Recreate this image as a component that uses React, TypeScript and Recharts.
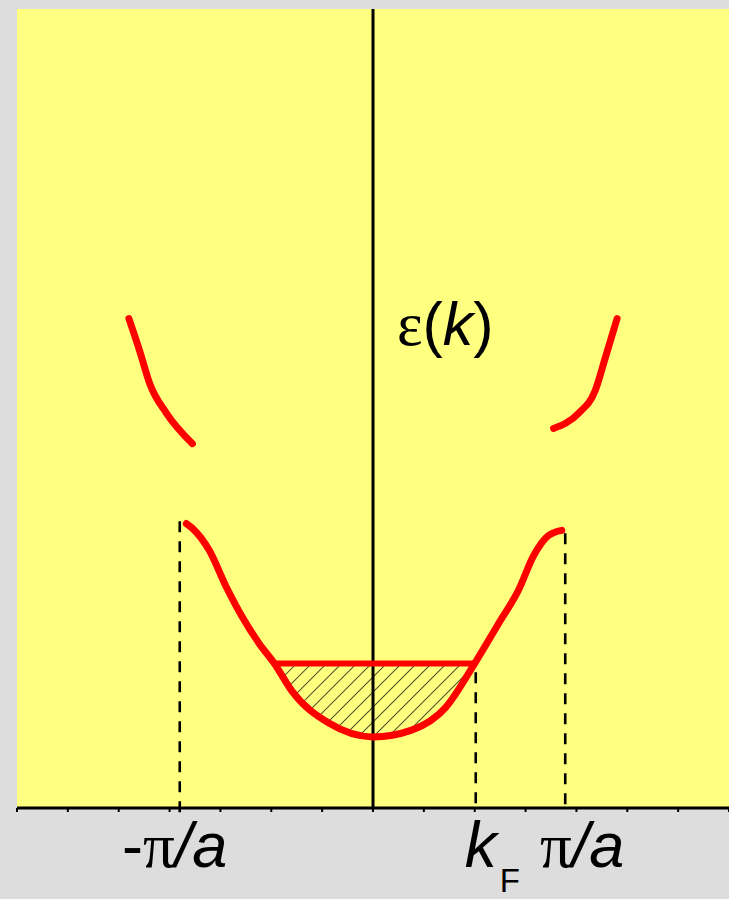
import React from 'react';
import {
  ComposedChart,
  Line,
  Area,
  XAxis,
  YAxis,
  CartesianGrid,
  ReferenceLine,
  ReferenceDot,
} from 'recharts';

// Wave vector k in units of the minor tick spacing, energy ε on a 0–100 scale.
const lowerK = [-3.67, -3.55, -3.22, -2.88, -2.57, -2.24, -1.94, -1.59, -0.86, 0, 0.76, 1.43, 2.0, 2.47, 2.86, 3.16, 3.45, 3.71];
const lowerE = [35.6, 35.0, 32.25, 27.6, 23.9, 20.6, 18.1, 14.6, 10.6, 8.9, 9.75, 12.6, 18.1, 23.1, 27.25, 31.6, 34.1, 34.75];

const upperLeftK = [-4.8, -4.59, -4.39, -4.06, -3.55];
const upperLeftE = [61.25, 57.25, 53.1, 49.4, 45.6];

const upperRightK = [3.55, 4.04, 4.37, 4.57, 4.8];
const upperRightE = [47.5, 49.4, 52.25, 56.4, 61.25];

// Filled states: lowest band up to the Fermi level
const fermiE = 18.1;
const fermiLeftK = -1.94;
const fermiRightK = 2.0;

// Marked wave vectors on the k axis: -π/a, k_F, π/a
const markerK = [-3.8, 2.02, 3.78];
const markerNames = ['-π/a', 'kF', 'π/a'];
const markerTopE = [35.9, 17, 34.4];

const minorTicks = [-7, -6, -5, -4, -3, -2, -1, 0, 1, 2, 3, 4, 5, 6, 7];

const curveLabelK = 0.47;
const curveLabelE = 57.9;

const toPoints = (ks: number[], es: number[]) => ks.map((k, i) => ({ k, e: es[i] }));

const lowerBand = toPoints(lowerK, lowerE);
const upperLeft = toPoints(upperLeftK, upperLeftE);
const upperRight = toPoints(upperRightK, upperRightE);
const filledStates = lowerBand
  .filter((p) => p.k >= fermiLeftK && p.k <= fermiRightK)
  .map((p) => ({ k: p.k, band: [p.e, fermiE] }));

const SANS = '"Liberation Sans", Arial, sans-serif';
const SERIF = '"Liberation Serif", "Times New Roman", serif';
const RED = '#ff0000';

const NoLabel = () => <g />;

const MarkerTick = (props: any) => {
  const { x, y, index } = props;
  const name = markerNames[index];
  const base = y + 54;
  if (name === 'kF') {
    return (
      <g>
        <text x={x - 11} y={base} fontFamily={SANS} fontSize={64} fontStyle="italic" fill="#000">
          k
        </text>
        <text x={x + 24} y={base + 25} fontFamily={SANS} fontSize={33} fill="#000">
          F
        </text>
      </g>
    );
  }
  const dx = name === '-π/a' ? -5 : 17;
  const sign = name.startsWith('-') ? '-' : '';
  return (
    <text x={x + dx} y={base} textAnchor="middle" fontFamily={SANS} fontSize={63} fill="#000">
      {sign && <tspan>{sign}</tspan>}
      <tspan fontFamily={SERIF}>π</tspan>
      <tspan fontStyle="italic">/a</tspan>
    </text>
  );
};

const CurveLabel = (props: any) => {
  const { viewBox } = props;
  return (
    <text x={viewBox.x} y={viewBox.y} fontFamily={SANS} fontSize={61} fill="#000">
      <tspan fontFamily={SERIF}>ε</tspan>
      <tspan>(</tspan>
      <tspan fontStyle="italic">k</tspan>
      <tspan>)</tspan>
    </text>
  );
};

export default function App() {
  return (
    <div style={{ width: 729, height: 899, background: '#dddddd' }}>
      <style>{'body{margin:0;background:#dddddd;}'}</style>
      <ComposedChart width={729} height={899} margin={{ top: 9, right: 0, bottom: 0, left: 17 }}>
        <defs>
          <pattern id="hatch" patternUnits="userSpaceOnUse" width={10.6} height={10.6} patternTransform="rotate(45)">
            <line x1={0} y1={0} x2={0} y2={10.6} stroke="#000" strokeWidth={1.3} />
          </pattern>
        </defs>
        <CartesianGrid horizontal={false} vertical={false} fill="#ffff80" />
        <XAxis
          type="number"
          dataKey="k"
          domain={[-7, 7]}
          ticks={minorTicks}
          allowDataOverflow
          height={5}
          interval={0}
          tick={<NoLabel />}
          tickSize={4}
          tickLine={{ stroke: '#000', strokeWidth: 2 }}
          axisLine={{ stroke: '#000', strokeWidth: 3 }}
        />
        <XAxis
          xAxisId="marks"
          type="number"
          dataKey="k"
          domain={[-7, 7]}
          ticks={markerK}
          allowDataOverflow
          height={86}
          axisLine={false}
          tickLine={false}
          tickSize={0}
          tickMargin={0}
          interval={0}
          tick={<MarkerTick />}
        />
        <YAxis hide type="number" domain={[0, 100]} allowDataOverflow />

        <Area
          data={filledStates}
          dataKey="band"
          type="monotone"
          stroke="none"
          fill="url(#hatch)"
          fillOpacity={1}
          isAnimationActive={false}
        />

        <ReferenceLine x={0} stroke="#000" strokeWidth={3} />

        {markerK.map((k, i) => (
          <ReferenceLine
            key={markerNames[i]}
            segment={[
              { x: k, y: markerTopE[i] },
              { x: k, y: i === 0 ? -0.75 : 0 },
            ]}
            stroke="#000"
            strokeWidth={2.6}
            strokeDasharray="11 9"
            ifOverflow="visible"
          />
        ))}

        <ReferenceLine
          segment={[
            { x: fermiLeftK, y: fermiE },
            { x: fermiRightK, y: fermiE },
          ]}
          stroke={RED}
          strokeWidth={6}
        />

        <Line data={lowerBand} dataKey="e" type="monotone" stroke={RED} strokeWidth={7} strokeLinecap="round" dot={false} isAnimationActive={false} />
        <Line data={upperLeft} dataKey="e" type="monotone" stroke={RED} strokeWidth={7} strokeLinecap="round" dot={false} isAnimationActive={false} />
        <Line data={upperRight} dataKey="e" type="monotone" stroke={RED} strokeWidth={7} strokeLinecap="round" dot={false} isAnimationActive={false} />

        <ReferenceDot x={curveLabelK} y={curveLabelE} r={0} fill="none" stroke="none" label={CurveLabel} />
      </ComposedChart>
    </div>
  );
}
